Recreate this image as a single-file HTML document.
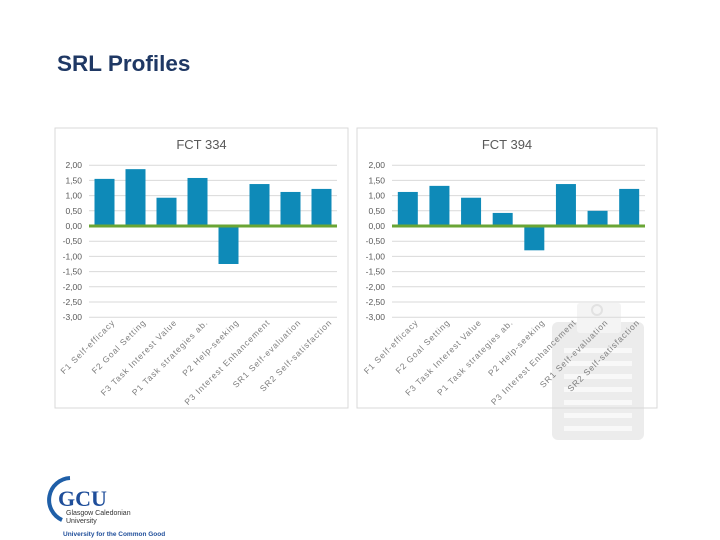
<!DOCTYPE html>
<html><head><meta charset="utf-8"><style>
body{margin:0;width:720px;height:540px;background:#fff;position:relative;overflow:hidden;font-family:"Liberation Sans",sans-serif}
#title{position:absolute;left:57px;top:51px;font-size:22.5px;font-weight:bold;color:#1f3864}
</style></head><body>
<div id="title">SRL Profiles</div>
<svg width="720" height="540" style="position:absolute;left:0;top:0">
 <g fill="#ececec">
  <rect x="552" y="322" width="92" height="118" rx="6"/>
  <rect x="577" y="303" width="44" height="30" rx="3" fill="#f4f4f4"/>
  <circle cx="597" cy="310" r="5" fill="none" stroke="#e2e2e2" stroke-width="2"/>
  <g fill="#f8f8f8">
   <rect x="564" y="348" width="68" height="5"/><rect x="564" y="361" width="68" height="5"/>
   <rect x="564" y="374" width="68" height="5"/><rect x="564" y="387" width="68" height="5"/>
   <rect x="564" y="400" width="68" height="5"/><rect x="564" y="413" width="68" height="5"/>
   <rect x="564" y="426" width="68" height="5"/>
  </g>
 </g>
 <g id="charts"></g>
 <g>
  <path d="M70 478 A22 22 0 0 0 62 520" fill="none" stroke="#1f5fa8" stroke-width="4"/>
  <text x="58" y="506" font-size="22" font-weight="bold" fill="#1f4e9a" font-family="Liberation Serif">GCU</text>
  <text x="66" y="515" font-size="7" fill="#333">Glasgow Caledonian</text>
  <text x="66" y="523" font-size="7" fill="#333">University</text>
  <text x="63" y="536" font-size="6.5" fill="#1f4e9a" font-weight="bold">University for the Common Good</text>
 </g>
</svg>
<script>
const categories=["F1 Self-efficacy","F2 Goal Setting","F3 Task Interest Value","P1 Task strategies ab.","P2 Help-seeking","P3 Interest Enhancement","SR1 Self-evaluation","SR2 Self-satisfaction"];
const fct334=[1.55,1.87,0.93,1.58,-1.25,1.38,1.12,1.22];
const fct394=[1.12,1.32,0.93,0.43,-0.80,1.38,0.50,1.22];
const yTicks=[2,1.5,1,0.5,0,-0.5,-1,-1.5,-2,-2.5,-3];
const titles=["FCT 334","FCT 394"];
const NS="http://www.w3.org/2000/svg";
const root=document.getElementById('charts');
function mk(t,a,p){const e=document.createElementNS(NS,t);for(const k in a)e.setAttribute(k,a[k]);p.appendChild(e);return e;}
function draw(vals,title,box){
 const g=mk('g',{},root);
 
 
 const fr=mk('rect',{x:box.x,y:box.y,width:box.w,height:box.h,fill:'none',stroke:'#d9d9d9'},g);
 
 const y=v=>226-(v)*30.4;
 const x0=box.px0,pw=box.px1-box.px0,step=pw/vals.length;
 const tt=mk('text',{x:(box.x+box.w/2),y:box.y+21,'text-anchor':'middle','font-size':13,fill:'#595959'},g);
 tt.textContent=title;
 yTicks.forEach(t=>{
  const l=mk('line',{x1:x0,x2:box.px1,y1:y(t),y2:y(t),stroke:'#d9d9d9'},g);
  
  const lb=mk('text',{x:x0-7,y:y(t)+3,'text-anchor':'end','font-size':8.5,fill:'#595959'},g);
  lb.textContent=t.toFixed(2).replace('.',',');
  
 });
 vals.forEach((v,i)=>{
  const cx=x0+step*(i+0.5);
  const r=mk('rect',{x:cx-10,y:Math.min(y(v),y(0)),width:20,height:Math.abs(y(v)-y(0)),fill:'#0e8ab8'},g);
  
  const lb=mk('text',{x:0,y:0,'text-anchor':'end','font-size':8.5,'letter-spacing':'0.9',fill:'#7f7f7f',transform:`translate(${cx+11},${323}) rotate(-45)`},g);
  lb.textContent=categories[i];
  
 });
 const z=mk('line',{x1:x0,x2:box.px1,y1:y(0),y2:y(0),stroke:'#6aa535','stroke-width':3},g);
 
}
draw(fct334,titles[0],{x:55,y:128,w:293,h:280,px0:89,px1:337});
draw(fct394,titles[1],{x:357,y:128,w:300,h:280,px0:392,px1:645});
</script>
</body></html>
